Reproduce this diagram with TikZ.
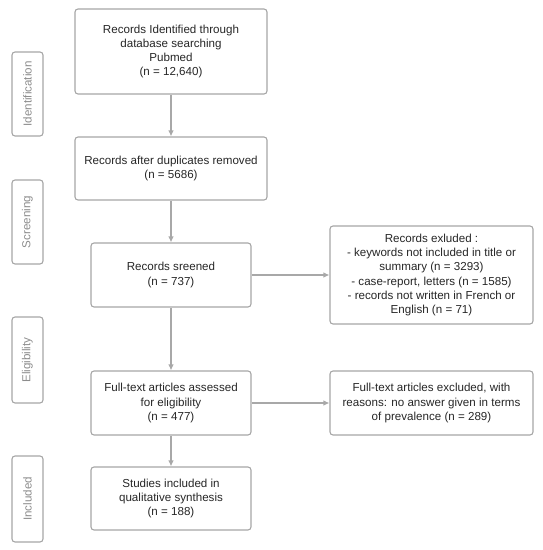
\documentclass[tikz,border=0pt]{standalone}
\usepackage{fontspec}
\setmainfont{Liberation Sans}
\usetikzlibrary{arrows.meta}
\definecolor{boxgray}{HTML}{A6A6A6}
\definecolor{arrgray}{HTML}{A8A8A8}
\definecolor{labgray}{HTML}{8C8C8C}
\begin{document}
\begin{tikzpicture}[x=1pt,y=-1pt,
  box/.style={draw=boxgray,line width=1.1pt,rounded corners=3pt,align=center,
    inner sep=2pt,font=\fontsize{11.6}{14.3}\selectfont,text=black!85},
  side/.style={draw=boxgray,line width=1.1pt,rounded corners=3pt,rotate=90,
    minimum height=31pt,inner sep=0pt,font=\fontsize{11.6}{14}\selectfont,text=labgray},
  arr/.style={draw=arrgray,line width=1.1pt,-{Latex[length=6pt,width=5.5pt]}}]
\useasboundingbox (0,0) rectangle (542,550);
\node[box,minimum width=192pt,minimum height=85pt] (b1) at (171,51.5)
  {Records Identified through\\database searching\\Pubmed\\(n = 12,640)};
\node[box,minimum width=192pt,minimum height=63pt] (b2) at (171,168.5)
  {Records after duplicates removed\\(n = 5686)};
\node[box,minimum width=160pt,minimum height=64pt] (b3) at (171,275)
  {Records sreened\\(n = 737)};
\node[box,minimum width=160pt,minimum height=64pt] (b4) at (171,403)
  {Full-text articles assessed\\for eligibility\\(n = 477)};
\node[box,minimum width=160pt,minimum height=63pt] (b5) at (171,498.5)
  {Studies included in\\qualitative synthesis\\(n = 188)};
\node[box,minimum width=203pt,minimum height=98pt] (r1) at (431.5,275)
  {Records exluded :\\- keywords not included in title or\\summary (n = 3293)\\- case-report, letters (n = 1585)\\- records not written in French or\\English (n = 71)};
\node[box,minimum width=203pt,minimum height=64pt] (r2) at (431.5,403)
  {Full-text articles excluded, with\\reasons: no answer given in terms\\of prevalence (n = 289)};
\node[side,minimum width=84pt] (s1) at (27.5,94) {Identification};
\node[side,minimum width=84pt] (s2) at (27.5,222) {Screening};
\node[side,minimum width=86pt] (s3) at (27.5,360) {Eligibility};
\node[side,minimum width=86pt] (s4) at (27.5,499) {Included};
\draw[arr] (b1) -- (b2);
\draw[arr] (b2) -- (b3);
\draw[arr] (b3) -- (b4);
\draw[arr] (b4) -- (b5);
\draw[arr] (b3) -- (r1);
\draw[arr] (b4) -- (r2);
\end{tikzpicture}
\end{document}
